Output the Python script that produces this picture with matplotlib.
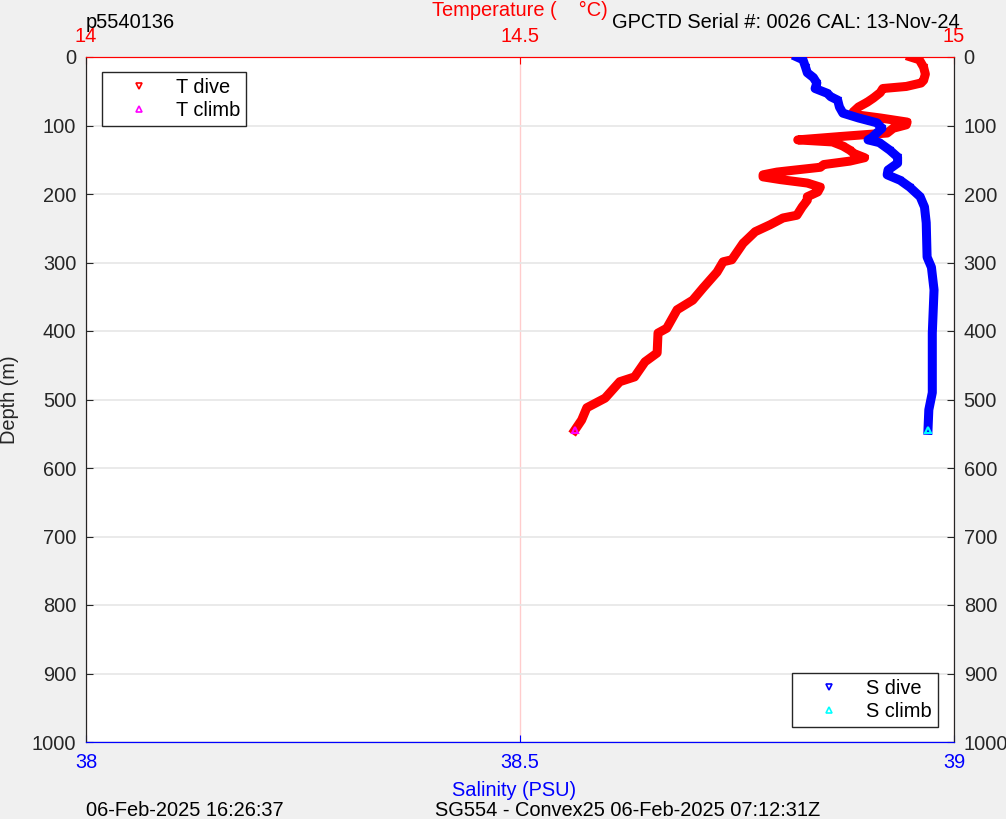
import matplotlib
matplotlib.use("Agg")
import matplotlib.pyplot as plt
from matplotlib.lines import Line2D

plt.rcParams["font.family"] = ["Liberation Sans", "DejaVu Sans"]

# dive profile values (depth in m)
t_depth = [0, 4, 15, 25, 34, 38, 43, 46, 52, 60, 66, 73, 80, 84, 89, 95, 99, 104,
           111, 116, 121, 124, 130, 136, 141, 147, 152, 157, 161, 166, 168, 172, 175,
           179, 184, 190, 197, 204, 209, 219, 231, 235, 245, 255, 272, 296, 299, 314,
           337, 355, 369, 396, 403, 432, 445, 467, 474, 498, 512, 530, 545]
temp = [14.950, 14.960, 14.965, 14.967, 14.965, 14.962, 14.945, 14.918, 14.915, 14.907,
        14.900, 14.890, 14.884, 14.885, 14.915, 14.946, 14.945, 14.930, 14.923, 14.870,
        14.820, 14.860, 14.872, 14.880, 14.885, 14.897, 14.880, 14.850, 14.846, 14.810,
        14.796, 14.780, 14.780, 14.800, 14.831, 14.846, 14.843, 14.831, 14.831, 14.825,
        14.819, 14.803, 14.788, 14.771, 14.757, 14.744, 14.734, 14.727, 14.711, 14.699,
        14.681, 14.669, 14.659, 14.658, 14.644, 14.632, 14.615, 14.598, 14.577, 14.571,
        14.563]

s_depth = [0, 4, 15, 23, 30, 38, 46, 53, 58, 63, 73, 82, 89, 96, 104, 111, 118, 121,
           125, 136, 146, 155, 165, 172, 180, 190, 204, 219, 242, 292, 307, 340, 403,
           453, 490, 515, 545]
sal = [38.819, 38.826, 38.829, 38.831, 38.838, 38.842, 38.840, 38.854, 38.858, 38.866,
       38.868, 38.872, 38.890, 38.911, 38.917, 38.911, 38.905, 38.901, 38.914, 38.926,
       38.935, 38.935, 38.924, 38.923, 38.938, 38.949, 38.961, 38.966, 38.968, 38.969,
       38.974, 38.977, 38.975, 38.975, 38.975, 38.971, 38.970]

# climb: single sample at the bottom
climb_depth = [545]
climb_temp = [14.563]
climb_sal = [38.970]

temp_ticks = [14, 14.5, 15]
temp_ticklabels = ["14", "14.5", "15"]
sal_ticks = [38, 38.5, 39]
sal_ticklabels = ["38", "38.5", "39"]
depth_ticks = list(range(0, 1001, 100))

GREY = "#262626"
FS = 14.4

fig = plt.figure(figsize=(10.06, 8.19), dpi=100, facecolor="#f0f0f0")
ax = fig.add_axes([86 / 1006, 1 - 742 / 819, 868 / 1006, 685 / 819])
ax.set_facecolor("white")

# salinity twin first (twiny moves the base ticks to the bottom)
ax2 = ax.twiny()

# temperature on the base axes, x axis on top
ax.set_xlim(14, 15)
ax.set_ylim(1000, 0)
ax.xaxis.set_ticks_position("top")
ax.set_xticks(temp_ticks)
ax.set_xticklabels(temp_ticklabels)
ax.tick_params(axis="x", colors="red", direction="in", length=5, pad=8, labelsize=FS)
ax.set_yticks(depth_ticks)
ax.tick_params(axis="y", colors=GREY, direction="in", length=5, pad=7, labelsize=FS,
               left=True, right=True, labelleft=True, labelright=True)
ax.grid(axis="y", color="#e6e6e6", lw=1.2)
ax.grid(axis="x", color="#ffcccc", lw=1)
ax.set_axisbelow(True)

ax.plot(temp, t_depth, color="red", lw=6.5, solid_joinstyle="round",
        marker="v", ms=4, mfc="none", zorder=3)
ax.plot(climb_temp, climb_depth, ls="none", marker="^", ms=4, color="magenta",
        mfc="none", mew=1.5, zorder=4)

# salinity on the twin, x axis at the bottom
ax2.set_xlim(38, 39)
ax2.xaxis.set_ticks_position("bottom")
ax2.xaxis.set_label_position("bottom")
ax2.set_xticks(sal_ticks)
ax2.set_xticklabels(sal_ticklabels)
ax2.tick_params(axis="x", colors="blue", direction="in", length=5, pad=8, labelsize=FS)
ax2.plot(sal, s_depth, color="blue", lw=6.5, solid_joinstyle="round",
         marker="v", ms=4, mfc="none", zorder=3)
ax2.plot(climb_sal, climb_depth, ls="none", marker="^", ms=4, color="cyan",
         mfc="none", mew=1.5, zorder=4)

for a in (ax, ax2):
    a.spines["left"].set_color(GREY)
    a.spines["right"].set_color(GREY)
    a.spines["top"].set_color("red")
    a.spines["bottom"].set_color("blue")

# legends
leg_kw = dict(bbox_transform=fig.transFigure, fancybox=False, edgecolor=GREY,
              framealpha=1, fontsize=FS, handlelength=3.1, handletextpad=0.3,
              borderpad=0.3, labelspacing=0.2, borderaxespad=0)
t_handles = [Line2D([], [], ls="none", marker="v", ms=4, color="red", mfc="none", mew=1.2),
             Line2D([], [], ls="none", marker="^", ms=4, color="magenta", mfc="none", mew=1.2)]
leg1 = ax2.legend(t_handles, ["T dive", "T climb"], loc="upper left",
                  bbox_to_anchor=(102 / 1006, 1 - 72 / 819), **leg_kw)
leg1.get_frame().set_linewidth(1)
ax2.add_artist(leg1)
s_handles = [Line2D([], [], ls="none", marker="v", ms=4, color="blue", mfc="none", mew=1.2),
             Line2D([], [], ls="none", marker="^", ms=4, color="cyan", mfc="none", mew=1.2)]
leg2 = ax2.legend(s_handles, ["S dive", "S climb"], loc="lower right",
                  bbox_to_anchor=(938 / 1006, 1 - 727 / 819), **leg_kw)
leg2.get_frame().set_linewidth(1)

# titles and annotations
fig.text(10 / 1006, 1 - 400 / 819, "Depth (m)", fontsize=FS, color=GREY, rotation=90,
         va="center", ha="center")
fig.text(86 / 1006, 1 - 22 / 819, "p5540136", fontsize=FS, va="center", ha="left")
fig.text(520 / 1006, 1 - 10 / 819, "Temperature (    \u00b0C)", fontsize=FS, color="red",
         va="center", ha="center")
fig.text(960 / 1006, 1 - 22 / 819, "GPCTD Serial #: 0026 CAL: 13-Nov-24", fontsize=FS,
         va="center", ha="right")
fig.text(514 / 1006, 1 - 790 / 819, "Salinity (PSU)", fontsize=FS, color="blue",
         va="center", ha="center")
fig.text(86 / 1006, 1 - 810 / 819, "06-Feb-2025 16:26:37", fontsize=FS, va="center", ha="left")
fig.text(435 / 1006, 1 - 810 / 819, "SG554 - Convex25 06-Feb-2025 07:12:31Z", fontsize=FS,
         va="center", ha="left")

fig.savefig("out.png", dpi=100, facecolor=fig.get_facecolor())
